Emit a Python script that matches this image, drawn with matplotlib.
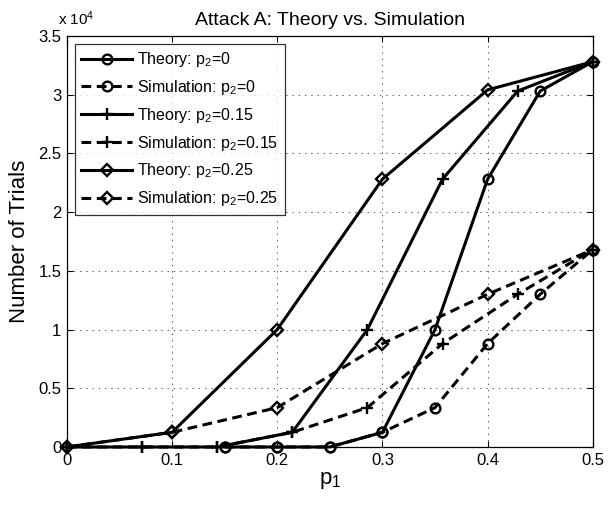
import matplotlib
matplotlib.use("Agg")
import matplotlib.pyplot as plt
from matplotlib.ticker import FuncFormatter, MultipleLocator

plt.rcParams['font.family'] = ['Liberation Sans', 'DejaVu Sans']
plt.rcParams['lines.scale_dashes'] = False
plt.rcParams['mathtext.fontset'] = 'custom'
plt.rcParams['mathtext.rm'] = 'Liberation Sans'
plt.rcParams['mathtext.it'] = 'Liberation Sans'

# Data
x_p0 = [0.15, 0.2, 0.25, 0.3, 0.35, 0.4, 0.45, 0.5]
x_p15 = [0, 1/14, 2/14, 3/14, 4/14, 5/14, 6/14, 7/14]
x_p25 = [0, 0.1, 0.2, 0.3, 0.4, 0.5]

theory_p0 = [0, 0, 0, 1250, 10000, 22800, 30300, 32800]
sim_p0 = [0, 0, 0, 1250, 3350, 8800, 13000, 16800]
theory_p15 = [0, 0, 0, 1250, 10000, 22800, 30300, 32800]
sim_p15 = [0, 0, 0, 1250, 3350, 8800, 13000, 16800]
theory_p25 = [0, 1250, 10000, 22800, 30400, 32800]
sim_p25 = [0, 1250, 3350, 8800, 13000, 16800]

labels = ['Theory: p$_2$=0', 'Simulation: p$_2$=0',
          'Theory: p$_2$=0.15', 'Simulation: p$_2$=0.15',
          'Theory: p$_2$=0.25', 'Simulation: p$_2$=0.25']

fig = plt.figure(figsize=(6.08, 5.12), dpi=100)
ax = fig.add_axes([0.110, 0.127, 0.865, 0.803])

lw = 2.2
mew = 1.7
dash = (0, (7, 4))
common = dict(color='black', lw=lw, mew=mew, mfc='none', mec='black', clip_on=False)

ax.plot(x_p0, theory_p0, marker='o', ms=7, ls='-', label=labels[0], **common)
ax.plot(x_p0, sim_p0, marker='o', ms=7, ls=dash, label=labels[1], **common)
ax.plot(x_p15, theory_p15, marker='+', ms=8, ls='-', label=labels[2], **common)
ax.plot(x_p15, sim_p15, marker='+', ms=8, ls=dash, label=labels[3], **common)
ax.plot(x_p25, theory_p25, marker='D', ms=6.5, ls='-', label=labels[4], **common)
ax.plot(x_p25, sim_p25, marker='D', ms=6.5, ls=dash, label=labels[5], **common)

ax.set_xlim(0, 0.5)
ax.set_ylim(0, 35000)
ax.xaxis.set_major_locator(MultipleLocator(0.1))
ax.yaxis.set_major_locator(MultipleLocator(5000))
ax.xaxis.set_major_formatter(FuncFormatter(lambda v, p: ('%g' % round(v, 2))))
ax.yaxis.set_major_formatter(FuncFormatter(lambda v, p: ('%g' % round(v / 1e4, 2))))
ax.tick_params(direction='in', top=True, right=True, labelsize=12, length=4, width=0.8, pad=4)
ax.grid(True, color='0.35', lw=0.7, ls=(0, (1, 3.5)))
for s in ax.spines.values():
    s.set_linewidth(0.9)

ax.set_title('Attack A: Theory vs. Simulation', fontsize=14, pad=8)
ax.set_xlabel('p$_1$', fontsize=16, labelpad=2)
ax.set_ylabel('Number of Trials', fontsize=16, labelpad=6)
fig.text(0.095, 0.945, r'x 10$^4$', fontsize=11, ha='left', va='bottom')

leg = ax.legend(loc='upper left', fontsize=11.5, handlelength=3.2, frameon=True,
                fancybox=False, edgecolor='black', borderpad=0.4, labelspacing=0.55,
                handletextpad=0.3, borderaxespad=0.5)
leg.get_frame().set_linewidth(0.9)

fig.savefig('out.png', dpi=100)
